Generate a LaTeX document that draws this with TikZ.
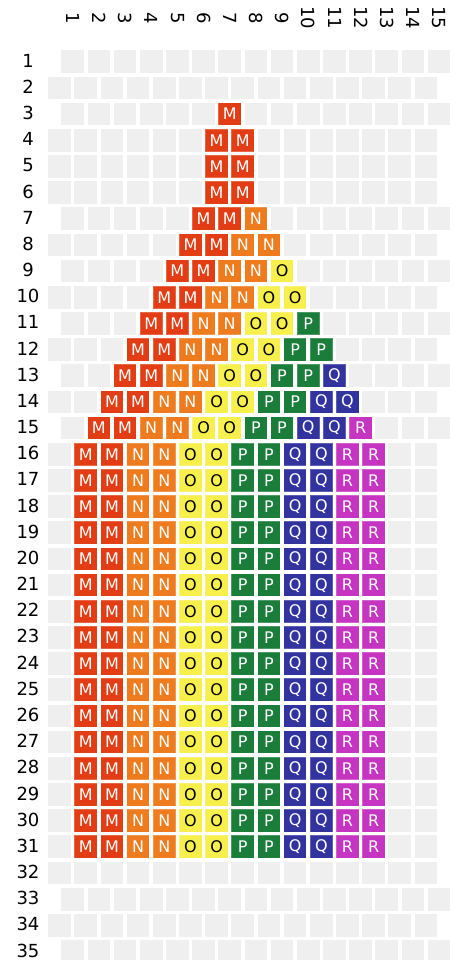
\documentclass[tikz,border=0pt]{standalone}
\usepackage{fontspec}
\setmainfont{DejaVu Sans}
\definecolor{seatgrey}{HTML}{EFEFEF}
\definecolor{mred}{HTML}{E23D14}
\definecolor{norange}{HTML}{EE7B1E}
\definecolor{oyellow}{HTML}{F6EF4C}
\definecolor{pgreen}{HTML}{1B7D3A}
\definecolor{qblue}{HTML}{3333A0}
\definecolor{rmagenta}{HTML}{C535C2}
\newcommand\seatletter[1]{\ifcase#1\or M\or M\or N\or N\or O\or O\or P\or P\or Q\or Q\or R\or R\fi}
\newcommand\seatfill[1]{\ifcase#1 seatgrey\or mred\or mred\or norange\or norange\or oyellow\or oyellow\or pgreen\or pgreen\or qblue\or qblue\or rmagenta\or rmagenta\fi}
\newcommand\seatink[1]{\ifnum#1=5 black\else\ifnum#1=6 black\else white\fi\fi}
\begin{document}
\begin{tikzpicture}[x=1pt, y=-1pt, font=\fontsize{18}{20}\selectfont,
	seat/.style={minimum size=22.7pt, inner sep=0pt, outer sep=0pt, line width=0.6pt, draw opacity=0.22, font=\fontsize{16}{16}\selectfont}]
	\useasboundingbox (0,0) rectangle (455,960);
	\clip (0,0) rectangle (455,960);
	\def\pitch{26.17}
	\foreach \k in {1,...,15} \node[rotate=-90] (col-\k) at ({73+(\k-1)*\pitch},18) {\k};
	% row / shifted half a seat / first coloured seat / number of coloured seats
	\foreach \i/\off/\first/\n in {1/1/1/0, 2/0/1/0, 3/1/7/1, 4/0/7/2, 5/0/7/2, 6/0/7/2, 7/1/6/3, 8/0/6/4, 9/1/5/5, 10/0/5/6,
		11/1/4/7, 12/0/4/8, 13/1/3/9, 14/0/3/10, 15/1/2/11, 16/0/2/12, 17/0/2/12, 18/0/2/12, 19/0/2/12, 20/0/2/12,
		21/0/2/12, 22/0/2/12, 23/0/2/12, 24/0/2/12, 25/0/2/12, 26/0/2/12, 27/0/2/12, 28/0/2/12, 29/0/2/12, 30/0/2/12,
		31/0/2/12, 32/0/1/0, 33/1/1/0, 34/0/1/0, 35/1/1/0}{
		\node[inner sep=1pt] (row-\i) at (28,{60.7+(\i-1)*\pitch}) {\i};
		\foreach \j in {1,...,15}{
			\pgfmathtruncatemacro\k{\j-\first+1}
			\ifnum\k<1 \def\k{0}\fi
			\ifnum\k>\n \def\k{0}\fi
			\edef\cfill{\seatfill{\k}}\edef\cink{\seatink{\k}}\edef\cdraw{\ifnum\k>0 white\else none\fi}
			\node[seat, fill=\cfill, text=\cink, draw=\cdraw] (s-\i-\j) at ({59.6+\off*13.1+(\j-1)*\pitch},{61.7+(\i-1)*\pitch}) {\seatletter{\k}};
		}
	}
\end{tikzpicture}
\end{document}
